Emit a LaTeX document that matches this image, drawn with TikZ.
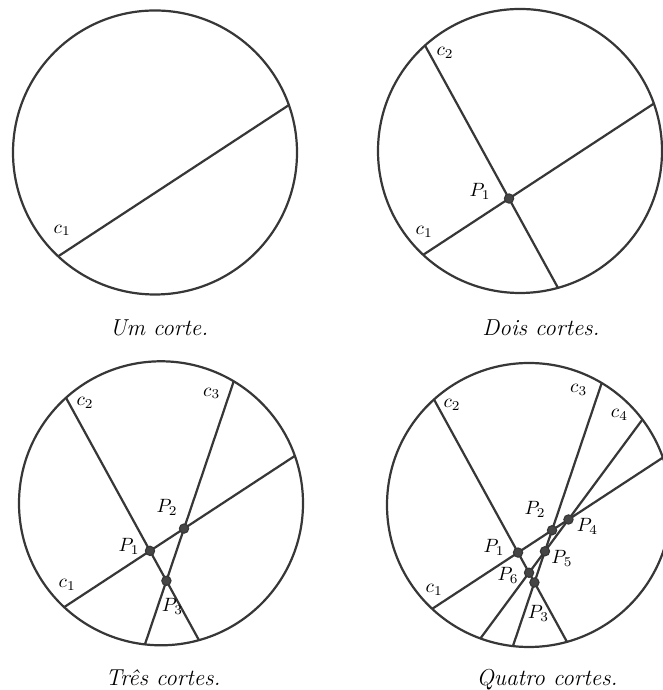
\documentclass[tikz,border=0pt]{standalone}
\usepackage{amsmath}
\usepackage{tikz}
\usetikzlibrary{calc}
\definecolor{inkgray}{RGB}{55,55,55}
\definecolor{dotgray}{RGB}{70,70,70}

\begin{document}
\begin{tikzpicture}[
        x=0.52pt, y=0.52pt,
        rim/.style={draw=inkgray, line width=1.15pt},
        cut/.style={draw=inkgray, line width=1.15pt},
        dot/.style={circle, draw=inkgray, fill=dotgray, line width=0.6pt, inner sep=0pt, minimum size=4.8pt},
        lbl/.style={inner sep=0pt, font=\normalsize},
        caption/.style={anchor=base, font=\large\itshape}
    ]
        \clip (0,0) rectangle (663,690);
        \def\rad{142}

        % Um corte
        \coordinate (o1) at (155,537.5);
        \path [rim] (o1) circle (\rad);
        \coordinate (s1c1a) at ($(o1)+(227:\rad)$);
        \coordinate (s1c1b) at ($(o1)+(19.5:\rad)$);
        \path [cut] (s1c1a) -- (s1c1b);
        \node [lbl] (s1l1) at ($(s1c1a)+(4,26)$) {$c_1$};
        \node [caption] (cap1) at (159,354) {Um corte.};

        % Dois cortes
        \coordinate (o2) at (520,539);
        \path [rim] (o2) circle (\rad);
        \coordinate (s2c1a) at ($(o2)+(227:\rad)$);
        \coordinate (s2c1b) at ($(o2)+(19.5:\rad)$);
        \coordinate (s2c2a) at ($(o2)+(132:\rad)$);
        \coordinate (s2c2b) at ($(o2)+(285.5:\rad)$);
        \path [cut] (s2c1a) -- (s2c1b);
        \path [cut] (s2c2a) -- (s2c2b);
        \node [dot] (s2p1) at (intersection of s2c1a--s2c1b and s2c2a--s2c2b) {};
        \node [lbl] (s2l1) at ($(s2c1a)+(1,23)$) {$c_1$};
        \node [lbl] (s2l2) at ($(s2c2a)+(20,-7)$) {$c_2$};
        \node [lbl] (s2q1) at ($(s2p1)+(-29,7)$) {$P_1$};
        \node [caption] (cap2) at (541,354) {Dois cortes.};

        % Tres cortes
        \coordinate (o3) at (161,186.7);
        \path [rim] (o3) circle (\rad);
        \coordinate (s3c1a) at ($(o3)+(227:\rad)$);
        \coordinate (s3c1b) at ($(o3)+(19.5:\rad)$);
        \coordinate (s3c2a) at ($(o3)+(132:\rad)$);
        \coordinate (s3c2b) at ($(o3)+(285.5:\rad)$);
        \coordinate (s3c3a) at ($(o3)+(59.2:\rad)$);
        \coordinate (s3c3b) at ($(o3)+(263.5:\rad)$);
        \path [cut] (s3c1a) -- (s3c1b);
        \path [cut] (s3c2a) -- (s3c2b);
        \path [cut] (s3c3a) -- (s3c3b);
        \node [dot] (s3p1) at (intersection of s3c1a--s3c1b and s3c2a--s3c2b) {};
        \node [dot] (s3p2) at (intersection of s3c1a--s3c1b and s3c3a--s3c3b) {};
        \node [dot] (s3p3) at (intersection of s3c2a--s3c2b and s3c3a--s3c3b) {};
        \node [lbl] (s3l1) at ($(s3c1a)+(3,22)$) {$c_1$};
        \node [lbl] (s3l2) at ($(s3c2a)+(19,-5)$) {$c_2$};
        \node [lbl] (s3l3) at ($(s3c3a)+(-22,-12)$) {$c_3$};
        \node [lbl] (s3q1) at ($(s3p1)+(-21,4)$) {$P_1$};
        \node [lbl] (s3q2) at ($(s3p2)+(-17,21)$) {$P_2$};
        \node [lbl] (s3q3) at ($(s3p3)+(6,-26)$) {$P_3$};
        \node [caption] (cap3) at (163,5) {Três cortes.};

        % Quatro cortes
        \coordinate (o4) at (529,185);
        \path [rim] (o4) circle (\rad);
        \coordinate (s4c1a) at ($(o4)+(227:\rad)$);
        \coordinate (s4c1b) at ($(o4)+(19.5:\rad)$);
        \coordinate (s4c2a) at ($(o4)+(132:\rad)$);
        \coordinate (s4c2b) at ($(o4)+(285.5:\rad)$);
        \coordinate (s4c3a) at ($(o4)+(59.2:\rad)$);
        \coordinate (s4c3b) at ($(o4)+(263.5:\rad)$);
        \coordinate (s4c4a) at ($(o4)+(37:\rad)$);
        \coordinate (s4c4b) at ($(o4)+(250:\rad)$);
        \path [cut] (s4c1a) -- (s4c1b);
        \path [cut] (s4c2a) -- (s4c2b);
        \path [cut] (s4c3a) -- (s4c3b);
        \path [cut] (s4c4a) -- (s4c4b);
        \node [dot] (s4p1) at (intersection of s4c1a--s4c1b and s4c2a--s4c2b) {};
        \node [dot] (s4p2) at (intersection of s4c1a--s4c1b and s4c3a--s4c3b) {};
        \node [dot] (s4p3) at (intersection of s4c2a--s4c2b and s4c3a--s4c3b) {};
        \node [dot] (s4p4) at (intersection of s4c1a--s4c1b and s4c4a--s4c4b) {};
        \node [dot] (s4p5) at (intersection of s4c3a--s4c3b and s4c4a--s4c4b) {};
        \node [dot] (s4p6) at (intersection of s4c2a--s4c2b and s4c4a--s4c4b) {};
        \node [lbl] (s4l1) at ($(s4c1a)+(2,19)$) {$c_1$};
        \node [lbl] (s4l2) at ($(s4c2a)+(18,-5)$) {$c_2$};
        \node [lbl] (s4l3) at ($(s4c3a)+(-23,-7)$) {$c_3$};
        \node [lbl] (s4l4) at ($(s4c4a)+(-23,5)$) {$c_4$};
        \node [lbl] (s4q1) at ($(s4p1)+(-24,5)$) {$P_1$};
        \node [lbl] (s4q2) at ($(s4p2)+(-17,21)$) {$P_2$};
        \node [lbl] (s4q3) at ($(s4p3)+(4,-31)$) {$P_3$};
        \node [lbl] (s4q4) at ($(s4p4)+(19,-7)$) {$P_4$};
        \node [lbl] (s4q5) at ($(s4p5)+(17,-7)$) {$P_5$};
        \node [lbl] (s4q6) at ($(s4p6)+(-21,-3)$) {$P_6$};
        \node [caption] (cap4) at (547,5) {Quatro cortes.};
\end{tikzpicture}
\end{document}
